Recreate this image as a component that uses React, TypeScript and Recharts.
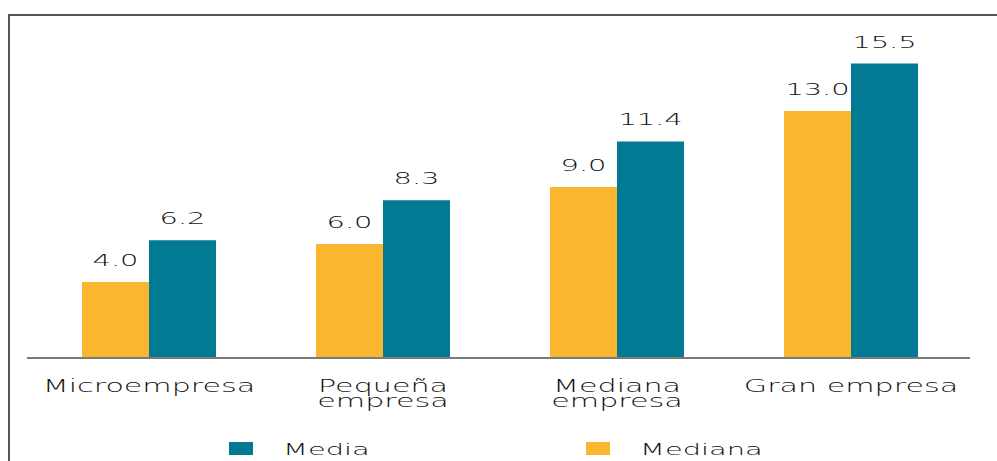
import React from "react";
import { BarChart, Bar, XAxis, YAxis, LabelList } from "recharts";

const categories = ["Microempresa", "Pequeña\nempresa", "Mediana\nempresa", "Gran empresa"];
const medianaValues = [4.0, 6.0, 9.0, 13.0];
const mediaValues = [6.2, 8.3, 11.4, 15.5];
const seriesNames = ["Media", "Mediana"];

const ORANGE = "#FBB62F";
const TEAL = "#037A93";
const FONT = "DejaVu Sans, sans-serif";
const WEIGHT = 200;

const data = categories.map((c, i) => ({
  name: c,
  mediana: medianaValues[i],
  media: mediaValues[i],
}));

const Tick = (props: any) => {
  const { x, y, payload } = props;
  const lines = String(payload.value).split("\n");
  return (
    <text
      x={0}
      y={0}
      transform={`translate(${x},${y + 34}) scale(1.63,1)`}
      textAnchor="middle"
      fontFamily={FONT}
      fontWeight={WEIGHT}
      fontSize={18.5}
      fill="#111"
    >
      {lines.map((ln, i) => (
        <tspan key={i} x={0} dy={i === 0 ? 0 : 15}>
          {ln}
        </tspan>
      ))}
    </text>
  );
};

const ValueLabel = (props: any) => {
  const { x, y, width, value } = props;
  return (
    <text
      x={0}
      y={0}
      transform={`translate(${x + width / 2},${y - 16}) scale(1.75,1)`}
      textAnchor="middle"
      fontFamily={FONT}
      fontWeight={WEIGHT}
      fontSize={16.5}
      fill="#111"
    >
      {Number(value).toFixed(1)}
    </text>
  );
};

export default function App() {
  const legendItems = [
    { name: seriesNames[0], color: TEAL, x: 229 },
    { name: seriesNames[1], color: ORANGE, x: 586 },
  ];
  return (
    <div style={{ position: "absolute", left: 0, top: 0, width: 997, height: 461, overflow: "hidden", background: "#fff" }}>
      <BarChart
        width={997}
        height={461}
        data={data}
        margin={{ top: 16, right: 27, left: 27, bottom: 43 }}
        barCategoryGap={50}
        barGap={0}
      >
        <YAxis hide domain={[0, 18]} />
        <XAxis
          dataKey="name"
          height={60}
          padding={{ left: 5, right: 2 }}
          axisLine={{ stroke: "#7a7a7a", strokeWidth: 2 }}
          tickLine={false}
          tickSize={0}
          tickMargin={0}
          tick={<Tick />}
          interval={0}
        />
        <Bar dataKey="mediana" fill={ORANGE} isAnimationActive={false}>
          <LabelList dataKey="mediana" content={<ValueLabel />} />
        </Bar>
        <Bar dataKey="media" fill={TEAL} isAnimationActive={false}>
          <LabelList dataKey="media" content={<ValueLabel />} />
        </Bar>
      </BarChart>
      <svg
        width={997}
        height={461}
        style={{ position: "absolute", left: 0, top: 0, pointerEvents: "none" }}
      >
        <rect x={9} y={15} width={1100} height={600} fill="none" stroke="#555" strokeWidth={2} />
        {legendItems.map((it) => (
          <g key={it.name}>
            <rect x={it.x} y={442} width={24} height={13} fill={it.color} />
            <text
              x={0}
              y={0}
              transform={`translate(${it.x + 54},455) scale(1.75,1)`}
              fontFamily={FONT}
              fontWeight={WEIGHT}
              fontSize={16.5}
              fill="#111"
            >
              {it.name}
            </text>
          </g>
        ))}
      </svg>
    </div>
  );
}
